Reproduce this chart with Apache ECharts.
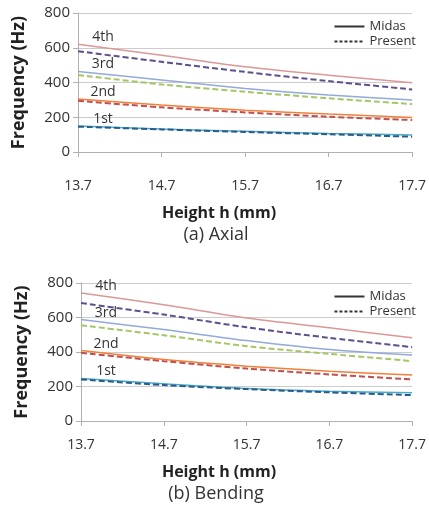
<!DOCTYPE html>
<html>
<head>
<meta charset="utf-8">
<script src="https://cdn.jsdelivr.net/npm/echarts@6/dist/echarts.min.js"></script>
<style>
  html, body { margin: 0; padding: 0; background: #fff; }
  #main { width: 429px; height: 531px; }
</style>
</head>
<body>
<div id="main"></div>
<script>
var heights = ['13.7', '14.7', '15.7', '16.7', '17.7'];
var modeNames = ['1st', '2nd', '3rd', '4th'];

// (a) Axial
var axMidas1 = [149, 132, 119, 107, 98];
var axPresent1 = [146, 130, 115, 102, 88];
var axMidas2 = [305, 270, 241, 218, 199];
var axPresent2 = [295, 257, 228, 203, 184];
var axMidas3 = [464, 414, 366, 328, 299];
var axPresent3 = [443, 389, 347, 309, 276];
var axMidas4 = [620, 557, 490, 442, 398];
var axPresent4 = [580, 519, 461, 408, 360];

// (b) Bending
var bdMidas1 = [247, 216, 189, 173, 164];
var bdPresent1 = [241, 208, 185, 166, 150];
var bdMidas2 = [408, 356, 318, 289, 266];
var bdPresent2 = [395, 347, 304, 270, 241];
var bdMidas3 = [588, 530, 466, 414, 382];
var bdPresent3 = [555, 497, 434, 389, 347];
var bdMidas4 = [742, 674, 597, 540, 482];
var bdPresent4 = [684, 617, 543, 482, 428];

var midasColors = ['#4bacc6', '#f0803a', '#93a9d9', '#dc9896'];
var presentColors = ['#2a5b8c', '#c0504d', '#a5c663', '#5e4f8c'];

var font = '"Open Sans", "Noto Sans", sans-serif';
var myChart = echarts.init(document.getElementById('main'));

function midasLine(idx, data, mode) {
    return {
        name: 'Midas ' + mode,
        type: 'line',
        xAxisIndex: idx, yAxisIndex: idx,
        data: data,
        symbol: 'circle',
        symbolSize: 0,
        smooth: 0.3,
        silent: true,
        lineStyle: { color: midasColors[modeNames.indexOf(mode)], width: 1.5 },
        itemStyle: { color: midasColors[modeNames.indexOf(mode)] },
        label: {
            show: true,
            position: 'inside',
            offset: [25, -7],
            color: '#333',
            fontSize: 14,
            fontFamily: font,
            formatter: function (p) { return p.dataIndex === 0 ? mode : ''; }
        },
        z: 2
    };
}

function presentLine(idx, data, mode) {
    return {
        name: 'Present ' + mode,
        type: 'line',
        xAxisIndex: idx, yAxisIndex: idx,
        data: data,
        showSymbol: false,
        smooth: 0.3,
        silent: true,
        lineStyle: { color: presentColors[modeNames.indexOf(mode)], width: 2, type: [6, 3] },
        z: 3
    };
}

function xAxisFor(idx, margin) {
    return {
        type: 'category',
        gridIndex: idx,
        data: heights,
        boundaryGap: false,
        axisLine: { lineStyle: { color: '#b0b0b0' } },
        axisTick: { show: true, length: 5, lineStyle: { color: '#b0b0b0' } },
        axisLabel: { margin: margin, color: '#333', fontSize: 14, fontFamily: font },
        splitLine: { show: false }
    };
}

function yAxisFor(idx) {
    return {
        type: 'value',
        gridIndex: idx,
        min: 0, max: 800, interval: 200,
        name: 'Frequency (Hz)',
        nameLocation: 'middle',
        nameGap: 50,
        nameTextStyle: { color: '#222', fontSize: 18, fontWeight: 'bold', fontFamily: font },
        axisLine: { show: true, lineStyle: { color: '#b0b0b0' } },
        axisTick: { show: true, length: 5, lineStyle: { color: '#b0b0b0' } },
        axisLabel: { margin: 8, color: '#333', fontSize: 15, fontFamily: font },
        splitLine: { lineStyle: { color: '#cccccc' } }
    };
}

function legendFor(top) {
    return {
        data: ['Midas', 'Present'],
        orient: 'vertical',
        right: 8,
        top: top,
        itemWidth: 30,
        itemHeight: 10,
        itemGap: 2,
        selectedMode: false,
        itemStyle: { opacity: 0 },
        textStyle: { color: '#333', fontSize: 13, fontFamily: font }
    };
}

var series = [
    { name: 'Midas', type: 'line', xAxisIndex: 0, yAxisIndex: 0, data: [], symbol: 'none',
      lineStyle: { color: '#333', width: 1.5 }, itemStyle: { color: '#333' } },
    { name: 'Present', type: 'line', xAxisIndex: 0, yAxisIndex: 0, data: [], symbol: 'none',
      lineStyle: { color: '#333', width: 1.5, type: [3, 2] }, itemStyle: { color: '#333' } }
];
series.push(midasLine(0, axMidas1, '1st'), presentLine(0, axPresent1, '1st'));
series.push(midasLine(0, axMidas2, '2nd'), presentLine(0, axPresent2, '2nd'));
series.push(midasLine(0, axMidas3, '3rd'), presentLine(0, axPresent3, '3rd'));
series.push(midasLine(0, axMidas4, '4th'), presentLine(0, axPresent4, '4th'));
series.push(midasLine(1, bdMidas1, '1st'), presentLine(1, bdPresent1, '1st'));
series.push(midasLine(1, bdMidas2, '2nd'), presentLine(1, bdPresent2, '2nd'));
series.push(midasLine(1, bdMidas3, '3rd'), presentLine(1, bdPresent3, '3rd'));
series.push(midasLine(1, bdMidas4, '4th'), presentLine(1, bdPresent4, '4th'));

option = {
    animation: false,
    backgroundColor: '#fff',
    grid: [
        { left: 78, right: 15, top: 13, height: 139 },
        { left: 81, right: 15, top: 283, height: 138 }
    ],
    xAxis: [xAxisFor(0, 27), xAxisFor(1, 17)],
    yAxis: [yAxisFor(0), yAxisFor(1)],
    legend: [legendFor(15), legendFor(285)],
    graphic: [
        { type: 'text', x: 219, y: 213, style: { text: 'Height h (mm)', align: 'center', verticalAlign: 'middle', fill: '#222', font: 'bold 16px ' + font } },
        { type: 'text', x: 216, y: 235, style: { text: '(a) Axial', align: 'center', verticalAlign: 'middle', fill: '#333', font: '18px ' + font } },
        { type: 'text', x: 219, y: 472, style: { text: 'Height h (mm)', align: 'center', verticalAlign: 'middle', fill: '#222', font: 'bold 16px ' + font } },
        { type: 'text', x: 216, y: 494, style: { text: '(b) Bending', align: 'center', verticalAlign: 'middle', fill: '#333', font: '18px ' + font } }
    ],
    series: series
};

myChart.setOption(option);
</script>
</body>
</html>
